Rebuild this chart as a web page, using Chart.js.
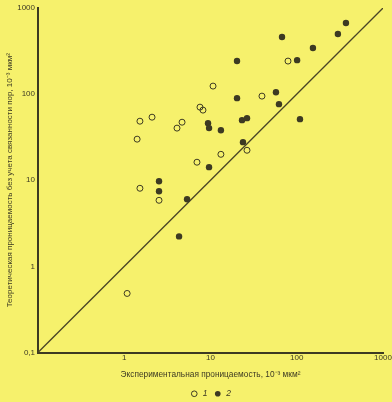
<!DOCTYPE html>
<html>
<head>
<meta charset="utf-8">
<script src="https://cdn.jsdelivr.net/npm/chart.js@4"></script>
<style>
    body{ margin:0; background:#f6f16c; }
    canvas{ display:block; background:#f6f16c; }
</style>
</head>
<body>
<canvas id="permChart" width="392" height="402"></canvas>
<script>

// ======================================
// DATA
// ======================================

// series 1 (open circles)
const openX = [1.08, 1.52, 2.53, 1.41, 1.52, 2.10, 4.09, 4.68, 7.55, 8.18, 10.7, 6.97, 13.2, 26.5, 39.5, 79.2];
const openY = [0.485, 8.07, 5.85, 30.0, 48.5, 54.0, 40.3, 47.2, 70.6, 65.2, 124, 16.2, 20.0, 22.3, 94.8, 242];

// series 2 (filled circles)
const filledX = [2.53, 2.53, 5.35, 4.32, 9.62, 9.36, 9.62, 13.2, 23.2, 26.5, 23.8, 20.3, 20.3, 57.4, 62.2, 109, 101, 67.5, 154, 300, 372];
const filledY = [9.73, 7.45, 6.01, 2.23, 14.2, 46.0, 40.3, 38.1, 49.9, 52.6, 27.7, 89.8, 242, 105, 76.5, 51.2, 248, 460, 343, 499, 670];

// diagonal y = x
const lineX = [0.1, 1000];
const lineY = [0.1, 1000];

const tickValues = [0.1, 1, 10, 100, 1000];
const tickLabels = ["0,1", "1", "10", "100", "1000"];

const seriesNames = ["1", "2"];

const xTitle = "Экспериментальная проницаемость, 10⁻³ мкм²";
const yTitle = "Теоретическая проницаемость без учета связанности пор, 10⁻³ мкм²";

// ======================================
// HELPERS
// ======================================

const ink = "#3d3a22";

function toPoints(xs, ys){

    return xs.map((x, i) => ({ x: x, y: ys[i] }));

}

function fixTicks(scale){

    scale.ticks = tickValues.map(v => ({ value: v }));

}

function tickText(value, showFirst){

    const i = tickValues.indexOf(value);

    if(i < 0) return "";

    if(i === 0 && !showFirst) return "";

    return tickLabels[i];

}

// ======================================
// CHART
// ======================================

new Chart(

    document.getElementById("permChart"),

    {

        type:"scatter",

        data:{

            datasets:[

                {
                    label:seriesNames[0],
                    data:toPoints(openX, openY),
                    pointStyle:"circle",
                    pointRadius:3,
                    pointBorderWidth:1,
                    borderColor:ink,
                    backgroundColor:"rgba(0,0,0,0)"
                },

                {
                    label:seriesNames[1],
                    data:toPoints(filledX, filledY),
                    pointStyle:"circle",
                    pointRadius:3.2,
                    pointBorderWidth:0,
                    borderColor:ink,
                    backgroundColor:ink
                },

                {
                    label:"diag",
                    type:"line",
                    data:toPoints(lineX, lineY),
                    borderColor:"#4a4526",
                    borderWidth:1.3,
                    pointRadius:0
                }

            ]

        },

        options:{

            responsive:false,

            animation:false,

            layout:{
                padding:{ left:0, right:9, top:8, bottom:-6 }
            },

            plugins:{

                tooltip:{ enabled:false },

                legend:{
                    position:"bottom",
                    fullSize:false,
                    labels:{
                        usePointStyle:true,
                        boxHeight:4,
                        padding:6,
                        color:ink,
                        font:{ family:"Liberation Sans", size:8.5, style:"italic" },
                        filter:item => item.text !== "diag"
                    }
                }

            },

            scales:{

                x:{
                    type:"logarithmic",
                    min:0.1,
                    max:1000,
                    afterBuildTicks:fixTicks,
                    afterFit:scale => { scale.height = 31; },
                    grid:{ display:false, drawTicks:false, tickLength:0 },
                    border:{ display:true, color:ink, width:2 },
                    ticks:{
                        autoSkip:false,
                        maxRotation:0,
                        padding:0,
                        color:ink,
                        font:{ family:"Liberation Sans", size:8 },
                        callback:value => tickText(value, false)
                    },
                    title:{
                        display:true,
                        text:xTitle,
                        color:ink,
                        padding:{ top:0, bottom:4 },
                        font:{ family:"Liberation Sans", size:8.3 }
                    }
                },

                y:{
                    type:"logarithmic",
                    min:0.1,
                    max:1000,
                    afterBuildTicks:fixTicks,
                    afterFit:scale => { scale.width = 38; },
                    grid:{ display:false, drawTicks:false, tickLength:0 },
                    border:{ display:true, color:ink, width:2 },
                    ticks:{
                        autoSkip:false,
                        padding:3,
                        color:ink,
                        font:{ family:"Liberation Sans", size:8 },
                        callback:value => tickText(value, true)
                    },
                    title:{
                        display:true,
                        text:yTitle,
                        color:ink,
                        padding:{ top:5, bottom:0 },
                        font:{ family:"Liberation Sans", size:8 }
                    }
                }

            }

        }

    }

);

</script>
</body>
</html>
